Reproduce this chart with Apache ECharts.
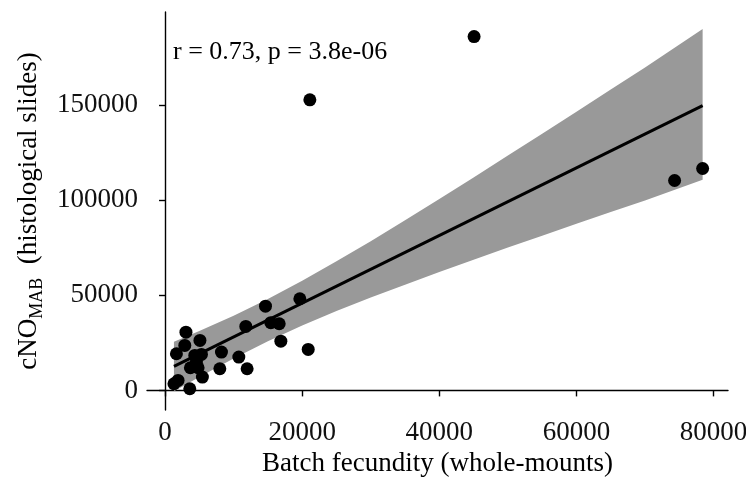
<!DOCTYPE html>
<html>
<head>
<meta charset="utf-8">
<script src="https://cdn.jsdelivr.net/npm/echarts@6/dist/echarts.min.js"></script>
<style>
  html, body { margin: 0; padding: 0; background: #fff; }
  #chart { width: 746px; height: 479px; }
</style>
</head>
<body>
<div id="chart"></div>
<script>
// points
var pointX = [3050, 5090, 2880, 1660, 8230, 5310, 4340, 10760, 3700, 4820,
  7990, 11970, 5450, 1300, 1900, 3610, 11780, 14650, 19660, 15430,
  16650, 16890, 20880, 4580, 21120, 45070, 74310, 78400];
var pointY = [30650, 26300, 23660, 19280, 20140, 18930, 18400, 17530, 11930, 11930,
  11400, 11400, 7000, 3500, 5260, 890, 33650, 44300, 48200, 35600,
  35050, 25900, 21550, 14900, 152800, 186100, 110400, 116700];

// fitted line and its grey band, read at a few x positions
var fitX = [1300, 78400];
var fitY = [12600, 149800];
var bandX = [1300, 5000, 10000, 15000, 20000, 25000, 30000, 35000, 40000,
  45000, 50000, 55000, 60000, 65000, 70000, 78400];
var bandLow = [-400, 7100, 16800, 25800, 34100, 41700, 48800, 55600, 62300,
  68700, 75100, 81400, 87600, 93800, 99900, 110800];
var bandHigh = [25600, 31200, 39300, 48100, 57700, 67900, 78500, 89500, 100700,
  112000, 123500, 135000, 146600, 158200, 169800, 190000];

var xTicks = [0, 20000, 40000, 60000, 80000];
var yTicks = [0, 50000, 100000, 150000];

var serif = '"Liberation Serif", "DejaVu Serif", serif';

var myChart = echarts.init(document.getElementById('chart'));

var scatterData = pointX.map(function (x, i) { return [x, pointY[i]]; });
var fitData = fitX.map(function (x, i) { return [x, fitY[i]]; });

function plain(v) { return String(v); }

var option = {
  backgroundColor: '#ffffff',
  animation: false,
  grid: { left: 147, right: 18, top: 12, bottom: 69, outerBoundsMode: 'none' },
  graphic: [{
    type: 'text',
    left: 173,
    top: 39,
    style: {
      text: 'r = 0.73, p = 3.8e-06',
      font: '26px ' + serif,
      fill: '#000'
    }
  }],
  xAxis: {
    type: 'value',
    min: -2630,
    max: 82100,
    name: 'Batch fecundity (whole-mounts)',
    nameLocation: 'middle',
    nameGap: 36,
    nameTextStyle: { fontFamily: serif, fontSize: 27, color: '#000' },
    axisLine: { lineStyle: { color: '#000', width: 1.4 } },
    axisTick: { show: true, length: 6, customValues: xTicks, lineStyle: { color: '#000', width: 1.4 } },
    axisLabel: { customValues: xTicks, formatter: plain, margin: 9, fontFamily: serif, fontSize: 27, color: '#111' },
    splitLine: { show: false }
  },
  yAxis: {
    type: 'value',
    min: -10300,
    max: 199000,
    name: '{a|cNO}{b|MAB}{a|  (histological slides)}',
    nameLocation: 'middle',
    nameGap: 100,
    nameTextStyle: {
      rich: {
        a: { fontFamily: serif, fontSize: 27, lineHeight: 27, color: '#000', verticalAlign: 'top' },
        b: { fontFamily: serif, fontSize: 18, lineHeight: 18, color: '#000', verticalAlign: 'top', padding: [13, 0, 0, 0] }
      }
    },
    axisLine: { show: true, lineStyle: { color: '#000', width: 1.4 } },
    axisTick: { show: true, length: 6, customValues: yTicks, lineStyle: { color: '#000', width: 1.4 } },
    axisLabel: { customValues: yTicks, formatter: plain, margin: 9, fontFamily: serif, fontSize: 27, color: '#111' },
    splitLine: { show: false }
  },
  series: [
    {
      name: 'band',
      type: 'custom',
      z: 1,
      data: [[bandX[0], bandLow[0]]],
      renderItem: function (params, api) {
        var pts = [];
        for (var i = 0; i < bandX.length; i++) pts.push(api.coord([bandX[i], bandHigh[i]]));
        for (var j = bandX.length - 1; j >= 0; j--) pts.push(api.coord([bandX[j], bandLow[j]]));
        return { type: 'polygon', shape: { points: pts }, style: { fill: '#999999' } };
      }
    },
    {
      name: 'fit',
      type: 'line',
      z: 2,
      data: fitData,
      symbol: 'none',
      lineStyle: { color: '#000', width: 3 }
    },
    {
      name: 'points',
      type: 'scatter',
      z: 3,
      data: scatterData,
      symbolSize: 13,
      itemStyle: { color: '#000', opacity: 1 }
    }
  ]
};

myChart.setOption(option);
</script>
</body>
</html>
